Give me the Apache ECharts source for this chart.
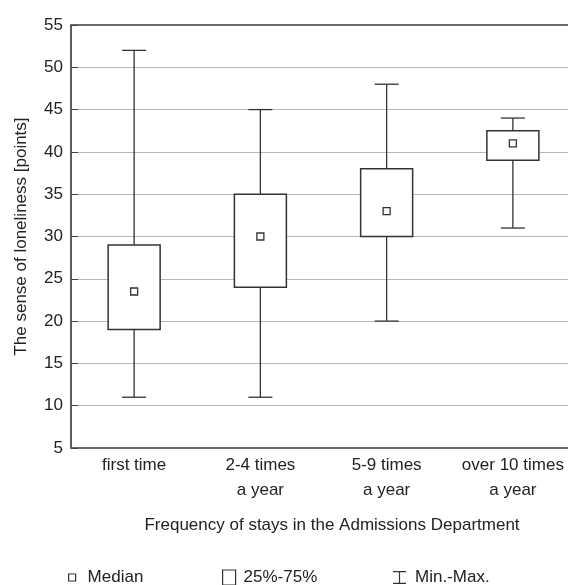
<!DOCTYPE html>
<html>
<head>
<meta charset="utf-8">
<script src="https://cdn.jsdelivr.net/npm/echarts@6/dist/echarts.min.js"></script>
<style>
  html, body { margin: 0; padding: 0; background: #fff; overflow: hidden; }
  #chart { width: 576px; height: 585px; }
</style>
</head>
<body>
<div id="chart"></div>
<script>
// data
const categories = ["first time", "2-4 times\na year", "5-9 times\na year", "over 10 times\na year"]
const minValues = [11, 11, 20, 31]
const q1Values = [19, 24, 30, 39]
const medianValues = [23.5, 30, 33, 41]
const q3Values = [29, 35, 38, 42.5]
const maxValues = [52, 45, 48, 44]
const yTicks = {min: 5, max: 55, interval: 5}

const font = "Liberation Sans"
const ink = "#333"

const rows = categories.map((c, i) => [i, minValues[i], q1Values[i], medianValues[i], q3Values[i], maxValues[i]])

// plot runs past the right edge of the window, like the picture
const chart = echarts.init(document.getElementById('chart'))

function whiskers(params, api) {
    const x = api.coord([api.value(0), api.value(1)])[0]
    const yMin = api.coord([api.value(0), api.value(1)])[1]
    const yMax = api.coord([api.value(0), api.value(5)])[1]
    const cap = 12
    const st = {stroke: ink, lineWidth: 1.3}
    return {
        type: 'group',
        children: [
            {type: 'line', shape: {x1: x, y1: yMin, x2: x, y2: yMax}, style: st},
            {type: 'line', shape: {x1: x - cap, y1: yMin, x2: x + cap, y2: yMin}, style: st},
            {type: 'line', shape: {x1: x - cap, y1: yMax, x2: x + cap, y2: yMax}, style: st},
        ]
    }
}

function box(params, api) {
    const x = api.coord([api.value(0), api.value(2)])[0]
    const yLo = api.coord([api.value(0), api.value(2)])[1]
    const yHi = api.coord([api.value(0), api.value(4)])[1]
    const w = 52
    return {
        type: 'rect',
        shape: {x: x - w / 2, y: yHi, width: w, height: yLo - yHi},
        style: {fill: '#fff', stroke: ink, lineWidth: 1.5}
    }
}

function median(params, api) {
    const p = api.coord([api.value(0), api.value(3)])
    const s = 7
    return {
        type: 'rect',
        shape: {x: p[0] - s / 2, y: p[1] - s / 2, width: s, height: s},
        style: {fill: '#fff', stroke: ink, lineWidth: 1.3}
    }
}

const legendText = {fontFamily: font, fontSize: 17, color: '#222'}

chart.setOption({
    animation: false,
    textStyle: {fontFamily: font},
    grid: {left: 71, right: 0, top: 25, bottom: 137, show: true, borderColor: '#555', borderWidth: 1},
    title: {
        text: "Frequency of stays in the Admissions Department",
        left: 327, top: 512, textAlign: 'center',
        textStyle: {fontFamily: font, fontSize: 17, fontWeight: 'normal', color: '#222'}
    },
    legend: [
        {
            left: 68, top: 569, padding: 0, itemWidth: 7, itemHeight: 7, selectedMode: false,
            textStyle: Object.assign({padding: [0, 0, 0, 7]}, legendText),
            data: [{name: 'Median', icon: 'rect', itemStyle: {color: '#fff', borderColor: ink, borderWidth: 1.2}}]
        },
        {
            left: 222, top: 569, padding: 0, itemWidth: 13, itemHeight: 15, selectedMode: false,
            textStyle: Object.assign({padding: [0, 0, 0, 3]}, legendText),
            data: [{name: '25%-75%', icon: 'rect', itemStyle: {color: '#fff', borderColor: ink, borderWidth: 1.2}}]
        },
        {
            left: 393, top: 569, padding: 0, itemWidth: 13, itemHeight: 13, selectedMode: false,
            textStyle: Object.assign({padding: [0, 0, 0, 4]}, legendText),
            data: [{
                name: 'Min.-Max.',
                icon: 'path://M0,0h13v1.2h-13z M5.9,1.2h1.2v10.6h-1.2z M0,11.8h13v1.2h-13z',
                itemStyle: {color: ink, borderWidth: 0}
            }]
        }
    ],
    xAxis: [
        {
            type: 'category',
            data: categories,
            position: 'bottom',
            axisLine: {lineStyle: {color: '#555', width: 1.5}},
            axisTick: {inside: true, length: 5, alignWithLabel: true, lineStyle: {color: '#444'}},
            axisLabel: {fontSize: 17, color: '#222', margin: 5, lineHeight: 25, interval: 0},
            splitLine: {show: false}
        },
        {
            type: 'category',
            data: categories,
            position: 'top',
            axisLine: {lineStyle: {color: '#555', width: 1.5}},
            axisTick: {inside: true, length: 5, alignWithLabel: true, lineStyle: {color: '#444'}},
            axisLabel: {show: false},
            splitLine: {show: false}
        }
    ],
    yAxis: {
        type: 'value',
        min: yTicks.min, max: yTicks.max, interval: yTicks.interval,
        name: "The sense of loneliness [points]",
        nameLocation: 'middle', nameGap: 41,
        nameTextStyle: {fontSize: 17, color: '#222'},
        axisLine: {show: true, lineStyle: {color: '#444', width: 1.5}},
        axisTick: {show: true, inside: true, length: 7, lineStyle: {color: '#444'}},
        axisLabel: {fontSize: 17, color: '#222', margin: 8},
        splitLine: {show: true, lineStyle: {color: '#b8b8b8', width: 1.2}}
    },
    series: [
        {name: 'Min.-Max.', type: 'custom', renderItem: whiskers, data: rows, z: 3},
        {name: '25%-75%', type: 'custom', renderItem: box, data: rows, z: 4},
        {name: 'Median', type: 'custom', renderItem: median, data: rows, z: 5}
    ]
})
</script>
</body>
</html>
